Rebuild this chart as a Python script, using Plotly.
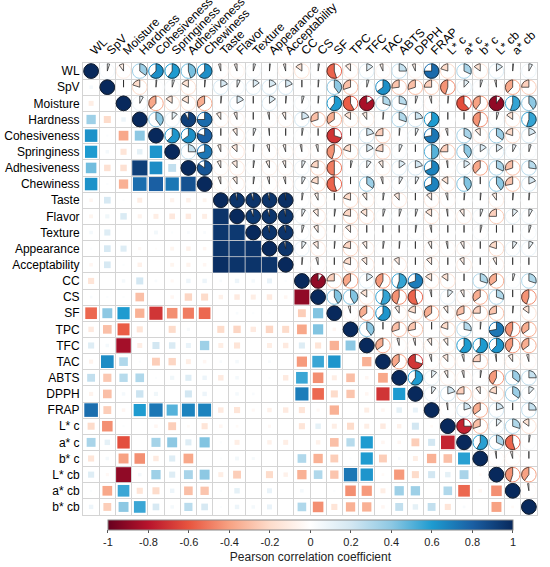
import numpy as np
import plotly.graph_objects as go

labels = ["WL", "SpV", "Moisture", "Hardness", "Cohesiveness", "Springiness", "Adhesiveness",
          "Chewiness", "Taste", "Flavor", "Texture", "Appearance", "Acceptability", "CC", "CS",
          "SF", "TPC", "TFC", "TAC", "ABTS", "DPPH", "FRAP", "L* c", "a* c", "b* c",
          "L* cb", "a* cb", "b* cb"]

# lower-triangle correlations: each row lists r with the preceding variables
r_WL = []
r_SpV = [0.05]
r_Moisture = [-0.1, 0.0]
r_Hardness = [0.35, -0.2, 0.08]
r_Cohesiveness = [0.63, 0.02, -0.38, 0.4]
r_Springiness = [0.6, 0.05, -0.15, 0.12, 0.62]
r_Adhesiveness = [0.45, -0.17, -0.17, 0.92, 0.65, 0.25]
r_Chewiness = [0.63, 0.02, -0.35, 0.75, 0.8, 0.72, 0.85]
r_Taste = [-0.05, 0.18, 0.02, -0.1, 0.0, -0.07, -0.08, -0.06]
r_Flavor = [-0.06, 0.07, 0.17, -0.07, -0.1, -0.13, -0.12, -0.1, 0.96]
r_Texture = [0.05, 0.15, 0.0, 0.0, 0.06, 0.02, 0.03, 0.03, 0.95, 0.94]
r_Appearance = [0.02, 0.18, 0.15, -0.04, -0.02, -0.06, -0.08, -0.05, 0.96, 0.95, 0.96]
r_Acceptability = [-0.05, 0.18, 0.02, -0.08, 0.0, -0.06, -0.07, -0.05, 0.98, 0.96, 0.96, 0.96]
r_CC = [-0.15, 0.0, 0.05, 0.2, 0.03, -0.04, 0.08, 0.08, 0.03, 0.08, 0.05, 0.1, 0.02]
r_CS = [0.03, 0.02, 0.02, -0.3, 0.0, -0.05, -0.22, -0.2, -0.08, -0.12, -0.1, -0.12, -0.05, -0.9]
r_SF = [-0.55, 0.4, 0.6, -0.35, -0.7, -0.45, -0.5, -0.55, 0.0, 0.03, 0.02, 0.02, 0.0, -0.25, 0.42]
r_TPC = [-0.12, -0.3, -0.58, -0.15, 0.0, -0.2, 0.04, 0.0, -0.2, -0.22, -0.12, -0.22, -0.2,
         -0.38, 0.42, -0.05]
r_TFC = [0.15, 0.05, -0.85, -0.1, 0.2, 0.17, 0.1, 0.35, -0.1, -0.15, 0.0, -0.1, -0.12,
         0.15, -0.15, -0.35, 0.4]
r_TAC = [-0.07, 0.65, 0.3, 0.02, -0.25, -0.22, -0.1, -0.05, 0.03, 0.05, 0.0, 0.03, 0.0,
         -0.42, 0.55, 0.62, 0.0, -0.35]
r_ABTS = [0.25, -0.27, 0.28, 0.3, 0.02, 0.07, 0.15, 0.08, -0.12, 0.05, 0.0, 0.02, -0.12,
          0.55, -0.45, -0.1, -0.3, -0.05, -0.38]
r_DPPH = [-0.07, -0.3, 0.05, 0.22, 0.07, 0.0, 0.2, 0.08, 0.0, 0.05, 0.03, 0.0, 0.0,
          0.7, -0.55, -0.2, -0.28, -0.05, -0.7, 0.6]
r_FRAP = [0.75, -0.25, -0.05, 0.6, 0.72, 0.5, 0.68, 0.68, -0.12, -0.15, -0.04, -0.08, -0.12,
          -0.15, -0.04, -0.35, 0.0, -0.1, -0.05, 0.12, 0.1]
r_Lc = [-0.2, -0.45, 0.02, 0.0, -0.05, -0.25, -0.03, -0.15, -0.05, -0.03, 0.0, -0.04, 0.0,
        -0.15, 0.12, -0.1, -0.2, -0.1, -0.12, -0.08, 0.2, -0.03]
r_ac = [0.32, 0.12, -0.62, 0.0, 0.33, 0.4, 0.15, 0.42, 0.02, -0.1, 0.0, -0.08, -0.1,
        0.0, -0.08, -0.3, 0.28, 0.6, -0.05, -0.05, -0.25, 0.2, -0.75]
r_bc = [-0.15, 0.05, -0.4, -0.45, -0.12, 0.15, -0.38, 0.0, 0.02, 0.06, 0.04, 0.0, 0.0,
        0.3, -0.35, -0.25, 0.02, 0.6, -0.25, 0.03, -0.1, -0.35, -0.3, 0.58]
r_Lcb = [0.15, -0.04, -0.9, 0.05, 0.35, 0.15, 0.32, 0.4, -0.1, -0.25, 0.0, -0.2, -0.08,
         -0.35, 0.3, -0.28, 0.72, 0.62, -0.03, -0.42, -0.2, 0.2, 0.12, 0.32, -0.03]
r_acb = [0.02, -0.38, 0.55, -0.15, -0.2, 0.08, -0.3, -0.28, 0.02, 0.12, 0.0, 0.1, 0.0,
         0.05, 0.0, 0.02, -0.45, -0.42, -0.1, 0.35, 0.35, 0.0, 0.3, -0.55, -0.05, -0.45]
r_bcb = [0.08, -0.25, 0.4, 0.55, 0.18, 0.05, 0.27, 0.18, 0.02, 0.08, 0.05, 0.1, 0.0,
         0.3, -0.45, -0.15, -0.35, -0.35, -0.05, 0.25, 0.12, 0.25, -0.15, 0.03, 0.0, -0.4, -0.03]

rows = [r_WL, r_SpV, r_Moisture, r_Hardness, r_Cohesiveness, r_Springiness, r_Adhesiveness,
        r_Chewiness, r_Taste, r_Flavor, r_Texture, r_Appearance, r_Acceptability, r_CC, r_CS,
        r_SF, r_TPC, r_TFC, r_TAC, r_ABTS, r_DPPH, r_FRAP, r_Lc, r_ac, r_bc, r_Lcb, r_acb, r_bcb]

cb_ticks = [-1, -0.8, -0.6, -0.4, -0.2, 0, 0.2, 0.4, 0.6, 0.8, 1]
cb_text = ["-1", "-0.8", "-0.6", "-0.4", "-0.2", "0", "0.2", "0.4", "0.6", "0.8", "1"]

stops = [(-1.0, "#67001F"), (-0.8, "#B8142C"), (-0.6, "#E8553F"), (-0.4, "#F7A283"),
         (-0.2, "#FDDCCB"), (0.0, "#FFFFFF"), (0.2, "#D3E7F2"), (0.4, "#8DC8E3"),
         (0.6, "#1E9BD0"), (0.8, "#1A5FA3"), (1.0, "#08295C")]
colorscale = [[(v + 1) / 2, c] for v, c in stops]


def hex2rgb(h):
    return tuple(int(h[k:k + 2], 16) for k in (1, 3, 5))


def color_of(v):
    v = max(-1.0, min(1.0, v))
    for (a, ca), (b, cb) in zip(stops[:-1], stops[1:]):
        if a <= v <= b:
            t = (v - a) / (b - a)
            r1, r2 = hex2rgb(ca), hex2rgb(cb)
            rgb = [round(r1[k] + (r2[k] - r1[k]) * t) for k in range(3)]
            return "rgb(%d,%d,%d)" % tuple(rgb)
    return stops[-1][1]


n = len(labels)
M = np.eye(n)
for i, row in enumerate(rows):
    for j, v in enumerate(row):
        M[i, j] = v
        M[j, i] = v

cell_px = 454 / n
fig = go.Figure()

# lower triangle squares
sx, sy, sv, ss = [], [], [], []
for i in range(n):
    for j in range(i):
        v = M[i, j]
        sx.append(j + 1)
        sy.append(i + 1)
        sv.append(v)
        ss.append(max(cell_px * 0.97 * np.sqrt(abs(v)), 0.1))
fig.add_trace(go.Scatter(
    x=sx, y=sy, mode="markers", hoverinfo="skip",
    marker=dict(symbol="square", size=ss, color=sv, colorscale=colorscale, cmin=-1, cmax=1,
                opacity=1, line=dict(width=0),
                colorbar=dict(orientation="h", x=0.501, xanchor="center", len=0.892,
                              lenmode="fraction", y=-0.012, yanchor="top", thickness=10,
                              xpad=0, ypad=0,
                              outlinewidth=1, outlinecolor="#8a8a8a",
                              tickvals=cb_ticks, ticktext=cb_text, ticks="outside",
                              ticklen=3, tickcolor="#555", tickfont=dict(size=11, color="#222"),
                              title=dict(text="Pearson correlation coefficient", side="bottom",
                                         font=dict(size=12, color="#222")))),
    showlegend=False))

# upper triangle + diagonal: circle outlines
cx, cy, cv = [], [], []
for i in range(n):
    for j in range(i, n):
        cx.append(j + 1)
        cy.append(i + 1)
        cv.append(M[i, j])
fig.add_trace(go.Scatter(
    x=cx, y=cy, mode="markers", hoverinfo="skip", showlegend=False,
    marker=dict(symbol="circle-open", size=cell_px * 0.9, color=cv, colorscale=colorscale,
                cmin=-1, cmax=1, opacity=1, line=dict(width=1))))

# pie sectors grouped by colour
R = 0.45
groups = {}
for i in range(n):
    for j in range(i, n):
        v = M[i, j]
        key = round(v * 50) / 50
        npts = int(abs(v) * 72) + 2
        th = np.linspace(0, v * 2 * np.pi, npts)
        px = list(j + 1 + R * np.sin(th))
        py = list(i + 1 - R * np.cos(th))
        if abs(v) < 0.999:
            px = [j + 1] + px + [j + 1]
            py = [i + 1] + py + [i + 1]
        g = groups.setdefault(key, ([], []))
        g[0].extend(px + [None])
        g[1].extend(py + [None])
for key, (gx, gy) in groups.items():
    fig.add_trace(go.Scatter(
        x=gx, y=gy, mode="lines", fill="toself", fillcolor=color_of(key),
        line=dict(color="#1a1a1a", width=0.7), hoverinfo="skip", showlegend=False))

pos = list(range(1, n + 1))
grid = dict(showgrid=True, gridcolor="#d4d4d4", gridwidth=1, tickvals=[k + 0.5 for k in range(n + 1)])
fig.update_xaxes(range=[0.5, n + 0.5], side="top", tickvals=pos, ticktext=labels, tickangle=-45,
                 showgrid=False, zeroline=False, showline=True, mirror=True, linecolor="#d4d4d4",
                 ticks="", automargin=False, tickfont=dict(size=12, color="black"), minor=grid)
fig.update_yaxes(range=[n + 0.5, 0.5], tickvals=pos, ticktext=labels, showgrid=False,
                 zeroline=False, showline=True, mirror=True, linecolor="#d4d4d4", ticks="",
                 automargin=False, tickfont=dict(size=12, color="black"), minor=grid)
fig.update_layout(width=550, height=567, margin=dict(l=83, r=13, t=63, b=52, autoexpand=False),
                  paper_bgcolor="white", plot_bgcolor="white",
                  font=dict(family="Liberation Sans, Arial, sans-serif"))
fig.write_html("out.html", config={"displayModeBar": False},
               post_script="document.body.style.margin='0px';")
